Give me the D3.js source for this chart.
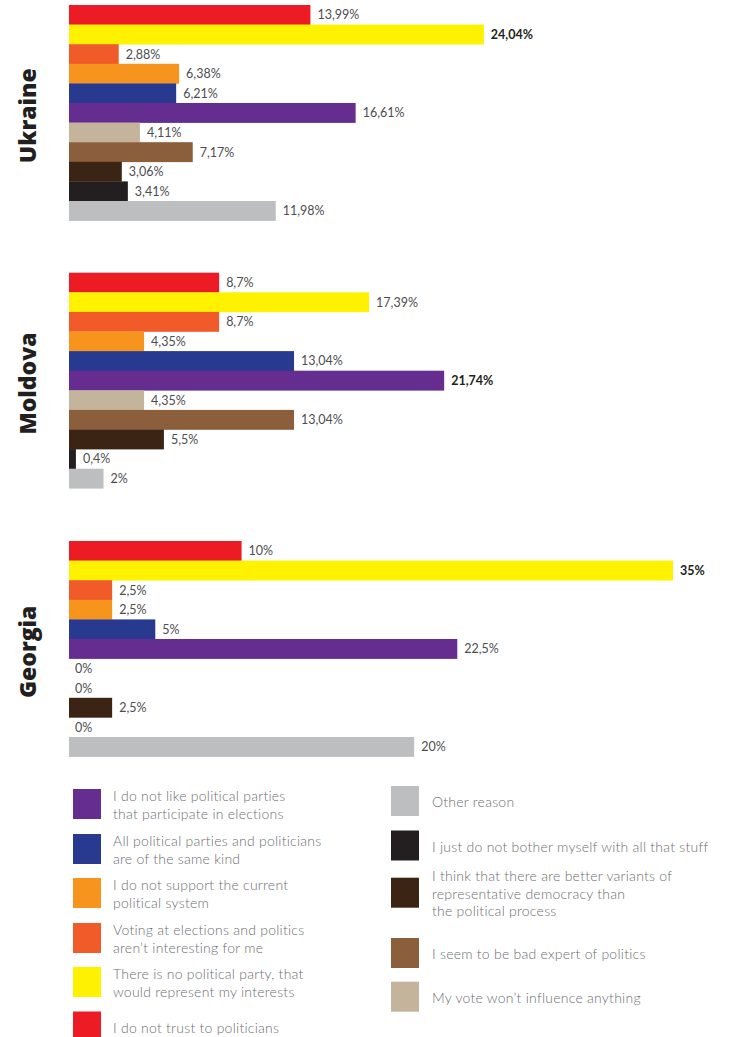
<!DOCTYPE html>
<html>
<head>
<meta charset="utf-8">
<script src="https://cdn.jsdelivr.net/npm/d3@7"></script>
<style>
  html, body { margin: 0; padding: 0; background: #fff; }
  svg { display: block; }
</style>
</head>
<body>
<svg id="chart" width="751" height="1037"></svg>
<script>
// ---- DATA ----
const categories = [
  "I do not trust to politicians",
  "There is no political party, that would represent my interests",
  "Voting at elections and politics aren’t interesting for me",
  "I do not support the current political system",
  "All political parties and politicians are of the same kind",
  "I do not like political parties that participate in elections",
  "My vote won’t influence anything",
  "I seem to be bad expert of politics",
  "I think that there are better variants of representative democracy than the political process",
  "I just do not bother myself with all that stuff",
  "Other reason"
];
const colors = ["#ed1c24", "#fff200", "#f15a29", "#f7941d", "#283a8f", "#662d91",
                "#c4b49b", "#8b5e3c", "#3c2415", "#231f20", "#bcbec0"];
const countries = ["Ukraine", "Moldova", "Georgia"];
const ukraine = [13.99, 24.04, 2.88, 6.38, 6.21, 16.61, 4.11, 7.17, 3.06, 3.41, 11.98];
const moldova = [8.7, 17.39, 8.7, 4.35, 13.04, 21.74, 4.35, 13.04, 5.5, 0.4, 2];
const georgia = [10, 35, 2.5, 2.5, 5, 22.5, 0, 0, 2.5, 0, 20];
const seriesValues = [ukraine, moldova, georgia];

// legend: text lines per entry (by category index)
const legendLeft = [
  { cat: 5, lines: ["I do not like political parties", "that participate in elections"] },
  { cat: 4, lines: ["All political parties and politicians", "are of the same kind"] },
  { cat: 3, lines: ["I do not support the current", "political system"] },
  { cat: 2, lines: ["Voting at elections and politics", "aren’t interesting for me"] },
  { cat: 1, lines: ["There is no political party, that", "would represent my interests"] },
  { cat: 0, lines: ["I do not trust to politicians"] }
];
const legendRight = [
  { cat: 10, lines: ["Other reason"] },
  { cat: 9, lines: ["I just do not bother myself with all that stuff"] },
  { cat: 8, lines: ["I think that there are better variants of", "representative democracy than", "the political process"] },
  { cat: 7, lines: ["I seem to be bad expert of politics"] },
  { cat: 6, lines: ["My vote won’t influence anything"] }
];

// ---- LAYOUT ----
const panelTops = [5, 272.7, 541];
const rowH = 19.6;
const leftColCenters = [804, 849, 893, 938, 982, 1026.5];
const rightColCenters = [801, 845.5, 892.7, 953, 996.7];

const svg = d3.select("#chart");
const font = "Lato, 'Open Sans', sans-serif";

const x = d3.scaleLinear().domain([0, 35]).range([69, 673]);
const fmt = v => String(v).replace(".", ",") + "%";

countries.forEach((country, ci) => {
  const vals = seriesValues[ci];
  const top = panelTops[ci];
  const y = d3.scaleBand()
    .domain(categories)
    .range([top, top + rowH * categories.length])
    .paddingInner(0).paddingOuter(0);
  const maxV = d3.max(vals);
  const g = svg.append("g").attr("class", "panel");

  const rows = categories.map((c, i) => ({ c, v: vals[i], color: colors[i] }));

  g.selectAll("rect").data(rows).join("rect")
    .attr("x", x(0))
    .attr("y", d => y(d.c))
    .attr("width", d => x(d.v) - x(0))
    .attr("height", y.bandwidth() + 0.3)
    .attr("fill", d => d.color);

  g.selectAll("text.val").data(rows).join("text")
    .attr("class", "val")
    .attr("x", d => x(d.v) + (d.v === 0 ? 6 : 7))
    .attr("y", d => y(d.c) + y.bandwidth() / 2)
    .attr("dy", "0.36em")
    .attr("font-family", font)
    .attr("font-size", 12.5)
    .attr("font-weight", d => d.v === maxV ? 700 : 400)
    .attr("fill", d => d.v === maxV ? "#231f20" : "#4d4d4f")
    .text(d => fmt(d.v));

  const cy = top + rowH * categories.length / 2 + 3;
  g.append("text")
    .attr("transform", `translate(28,${cy}) rotate(-90)`)
    .attr("text-anchor", "middle")
    .attr("dy", "0.36em")
    .attr("font-family", "'Open Sans', Lato, sans-serif")
    .attr("font-size", 23)
    .attr("font-weight", 800)
    .attr("fill", "#231f20")
    .text(country);
});

// ---- LEGEND ----
function drawLegend(items, centers, swX, txX) {
  const lg = svg.append("g").attr("class", "legend");
  const lineH = 17.7;
  items.forEach((it, i) => {
    const c = centers[i];
    lg.append("rect")
      .attr("x", swX).attr("y", c - 15)
      .attr("width", 28).attr("height", 30)
      .attr("fill", colors[it.cat]);
    const n = it.lines.length;
    const t = lg.append("text")
      .attr("font-family", font)
      .attr("font-size", 14)
      .attr("font-weight", 300)
      .attr("letter-spacing", 0.25)
      .attr("fill", "#6d6e71");
    it.lines.forEach((ln, k) => {
      t.append("tspan")
        .attr("x", txX)
        .attr("y", c + (k - (n - 1) / 2) * lineH + 1)
        .attr("dy", "0.36em")
        .text(ln);
    });
  });
}
drawLegend(legendLeft, leftColCenters, 73, 113);
drawLegend(legendRight, rightColCenters, 391, 432);
</script>
</body>
</html>
